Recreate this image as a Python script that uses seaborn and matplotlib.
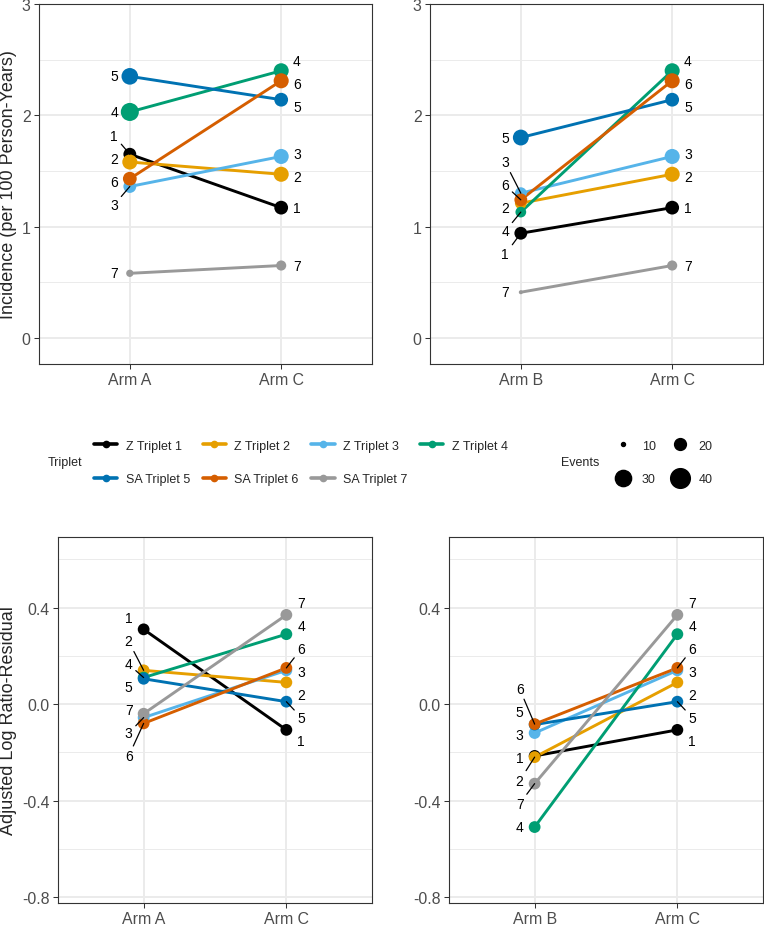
import numpy as np
import pandas as pd
import matplotlib
matplotlib.use("Agg")
import matplotlib.pyplot as plt
import seaborn as sns
from matplotlib.lines import Line2D

# --- DATA ---
TRIPLETS = ["Z Triplet 1", "Z Triplet 2", "Z Triplet 3", "Z Triplet 4",
            "SA Triplet 5", "SA Triplet 6", "SA Triplet 7"]
TRIPLET_IDS = [1, 2, 3, 4, 5, 6, 7]
COLORS = ["#000000", "#E69F00", "#56B4E9", "#009E73", "#0072B2", "#D55E00", "#999999"]

# incidence (per 100 person-years)
INC_ARM_A = [1.65, 1.58, 1.36, 2.03, 2.35, 1.43, 0.58]
INC_ARM_B = [0.94, 1.21, 1.30, 1.13, 1.80, 1.24, 0.41]
INC_ARM_C = [1.17, 1.47, 1.63, 2.40, 2.14, 2.31, 0.65]

# number of events (point size)
EVENTS_ARM_A = [22, 27, 22, 35, 31, 24, 13]
EVENTS_ARM_B = [22, 20, 20, 18, 29, 22, 9]
EVENTS_ARM_C = [24, 27, 27, 27, 24, 27, 17]

# adjusted log ratio residuals
RES_ARM_A = [0.31, 0.14, -0.056, 0.11, 0.105, -0.08, -0.04]
RES_ARM_B = [-0.215, -0.22, -0.12, -0.51, -0.085, -0.083, -0.33]
RES_ARM_C = [-0.107, 0.09, 0.14, 0.29, 0.01, 0.15, 0.37]

EVENT_BREAKS = [10, 20, 30, 40]

INC_TICKS = [0, 1, 2, 3]
RES_TICKS = [-0.8, -0.4, 0.0, 0.4]

PALETTE = dict(zip(TRIPLETS, COLORS))

# --- STYLE ---
sns.set_theme(style="white")
plt.rcParams["font.family"] = ["Liberation Sans", "DejaVu Sans"]

W, H = 764, 929
LABEL_GAP_PX = 23
LEADER_MIN_PX = 13


def event_area(e):
    # marker area in pt^2, linear in events (like ggplot's area scale)
    return 8.3 + 6.43 * (np.asarray(e, dtype=float) - 10)


def make_df(left_vals, right_vals, left_ev=None, right_ev=None):
    rows = []
    for i, t in enumerate(TRIPLETS):
        rows.append(dict(triplet=t, pos=1, value=left_vals[i],
                         events=left_ev[i] if left_ev else np.nan))
        rows.append(dict(triplet=t, pos=2, value=right_vals[i],
                         events=right_ev[i] if right_ev else np.nan))
    return pd.DataFrame(rows)


def repel(values, gap):
    # simple 1-d label repel: keep labels `gap` apart, clusters centred on their points
    vals = np.asarray(values, dtype=float)
    groups = []
    for idx in np.argsort(-vals, kind="stable"):
        groups.append([[idx], vals[idx]])
        while len(groups) > 1:
            g1, g2 = groups[-2], groups[-1]
            low1 = g1[1] - (len(g1[0]) - 1) / 2 * gap
            high2 = g2[1] + (len(g2[0]) - 1) / 2 * gap
            if low1 - high2 < gap:
                members = g1[0] + g2[0]
                groups[-2:] = [[members, vals[members].mean()]]
            else:
                break
    out = np.empty(len(vals))
    for members, center in groups:
        n = len(members)
        for k, m in enumerate(members):
            out[m] = center + ((n - 1) / 2 - k) * gap
    return out


def add_labels(ax, xpos, values, side):
    y0, y1 = ax.get_ylim()
    ppu = ax.get_window_extent().height / (y1 - y0)
    ys = repel(values, LABEL_GAP_PX / ppu)
    dx = -0.078 if side == "left" else 0.078
    ha = "right" if side == "left" else "left"
    for tid, v, y in zip(TRIPLET_IDS, values, ys):
        arrow = None
        if abs(y - v) * ppu > LEADER_MIN_PX:
            arrow = dict(arrowstyle="-", color="black", lw=0.9, shrinkA=0, shrinkB=0)
        ax.annotate(str(tid), xy=(xpos, v), xytext=(xpos + dx, y), ha=ha, va="center",
                    fontsize=10, color="black", arrowprops=arrow, zorder=5)


def draw_panel(ax, df, arms, ylim, ticks, minor, tick_fmt, sized):
    ax.set_xlim(0.4, 2.6)
    ax.set_ylim(*ylim)
    sns.lineplot(data=df, x="pos", y="value", hue="triplet", hue_order=TRIPLETS,
                 palette=PALETTE, lw=2.1, legend=False, estimator=None, ax=ax, zorder=2)
    if sized:
        sns.scatterplot(data=df, x="pos", y="value", hue="triplet", hue_order=TRIPLETS,
                        palette=PALETTE, size="events",
                        sizes=(float(event_area(10)), float(event_area(40))),
                        size_norm=(10, 40), linewidth=0, legend=False, ax=ax, zorder=3)
    else:
        sns.scatterplot(data=df, x="pos", y="value", hue="triplet", hue_order=TRIPLETS,
                        palette=PALETTE, s=72, linewidth=0, legend=False, ax=ax, zorder=3)
    ax.set_xticks([1, 2])
    ax.set_xticklabels(arms)
    ax.set_yticks(ticks)
    ax.set_yticklabels([tick_fmt.format(t) for t in ticks])
    ax.set_yticks(minor, minor=True)
    ax.set_axisbelow(True)
    ax.grid(True, which="major", color="#EBEBEB", lw=1.4)
    ax.grid(True, which="minor", axis="y", color="#EBEBEB", lw=0.7)
    ax.tick_params(which="major", bottom=True, left=True, length=3.8, width=0.75,
                   color="#333333", labelsize=11.4, labelcolor="#4D4D4D", pad=2.2)
    ax.tick_params(which="minor", length=0)
    for sp in ax.spines.values():
        sp.set_visible(True)
        sp.set_color("#333333")
        sp.set_linewidth(0.8)
    ax.set_xlabel("")
    ax.set_ylabel("")
    add_labels(ax, 1, list(df[df.pos == 1].value), "left")
    add_labels(ax, 2, list(df[df.pos == 2].value), "right")


fig = plt.figure(figsize=(W / 100, H / 100), dpi=100)


def box(x0, y0, x1, y1):
    return [x0 / W, 1 - y1 / H, (x1 - x0) / W, (y1 - y0) / H]


ax_tl = fig.add_axes(box(39, 5, 372, 365))
ax_tr = fig.add_axes(box(430, 5, 763, 365))
ax_bl = fig.add_axes(box(58, 538, 372, 904))
ax_br = fig.add_axes(box(449, 538, 763, 904))

inc_lim = (-0.235, 3.0)
inc_minor = [0.5, 1.5, 2.5]
res_lim = (-0.825, 0.693)
res_minor = [-0.6, -0.2, 0.2, 0.6]

draw_panel(ax_tl, make_df(INC_ARM_A, INC_ARM_C, EVENTS_ARM_A, EVENTS_ARM_C),
           ["Arm A", "Arm C"], inc_lim, INC_TICKS, inc_minor, "{:.0f}", True)
draw_panel(ax_tr, make_df(INC_ARM_B, INC_ARM_C, EVENTS_ARM_B, EVENTS_ARM_C),
           ["Arm B", "Arm C"], inc_lim, INC_TICKS, inc_minor, "{:.0f}", True)
draw_panel(ax_bl, make_df(RES_ARM_A, RES_ARM_C),
           ["Arm A", "Arm C"], res_lim, RES_TICKS, res_minor, "{:.1f}", False)
draw_panel(ax_br, make_df(RES_ARM_B, RES_ARM_C),
           ["Arm B", "Arm C"], res_lim, RES_TICKS, res_minor, "{:.1f}", False)

# axis titles
fig.text(9 / W, 1 - 185 / H, "Incidence (per 100 Person-Years)", rotation=90,
         ha="center", va="center", fontsize=13)
fig.text(9 / W, 1 - 721 / H, "Adjusted Log Ratio-Residual", rotation=90,
         ha="center", va="center", fontsize=13)

# --- LEGENDS ---
leg_y = 1 - 463.5 / H
order = [0, 4, 1, 5, 2, 6, 3]
trip_handles = [Line2D([], [], color=COLORS[i], lw=2.6, marker="o", markersize=4.5)
                for i in order]
fig.legend(trip_handles, [TRIPLETS[i] for i in order], ncol=4, loc="center left",
           bbox_to_anchor=(94 / W, leg_y), frameon=False, fontsize=9,
           handlelength=1.85, handletextpad=0.7, columnspacing=1.0,
           labelspacing=1.75, borderpad=0, borderaxespad=0)
fig.text(48 / W, leg_y, "Triplet", ha="left", va="center", fontsize=9)

ev_order = [0, 2, 1, 3]
ev_handles = [Line2D([], [], ls="none", marker="o", color="black",
                     markersize=float(np.sqrt(event_area(EVENT_BREAKS[i]))))
              for i in ev_order]
fig.legend(ev_handles, [str(EVENT_BREAKS[i]) for i in ev_order], ncol=2,
           loc="center left", bbox_to_anchor=(613 / W, leg_y), frameon=False,
           fontsize=9, handlelength=1.6, handletextpad=0.72, columnspacing=1.1,
           labelspacing=1.75, borderpad=0, borderaxespad=0)
fig.text(561 / W, leg_y, "Events", ha="left", va="center", fontsize=9)

fig.savefig("out.png", dpi=100)
